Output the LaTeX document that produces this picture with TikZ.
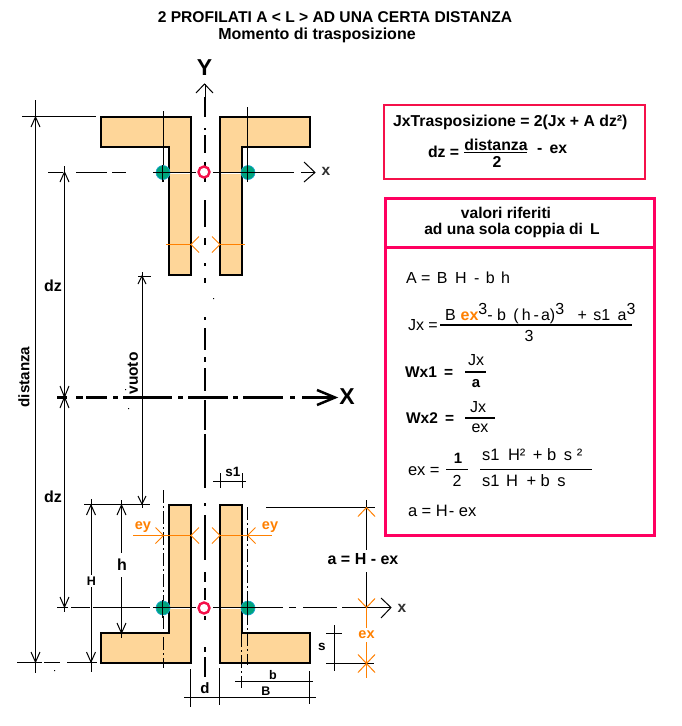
\documentclass[tikz,border=0pt]{standalone}
\usepackage{fontspec}
\setmainfont{Liberation Sans}
\definecolor{prof}{HTML}{FED699}
\definecolor{orng}{HTML}{FF8000}
\definecolor{box1}{HTML}{F5104A}
\definecolor{box2}{HTML}{FF0060}
\definecolor{grn}{HTML}{00A57C}
\definecolor{txg}{HTML}{303030}
\newcommand\fs[1]{\fontsize{#1}{#1}\selectfont}
\newcommand\fb{\bfseries}
\newcommand\hU[2]{\draw (#1-4.5,#2+10)--(#1,#2)--(#1+4.5,#2+10);}
\newcommand\hD[2]{\draw (#1-4.5,#2-10)--(#1,#2)--(#1+4.5,#2-10);}
\newcommand\oL[2]{\draw[orng] (#1+8,#2-8)--(#1,#2)--(#1+8,#2+8);}
\newcommand\oR[2]{\draw[orng] (#1-8,#2-8)--(#1,#2)--(#1-8,#2+8);}
\newcommand\oU[2]{\draw[orng] (#1-8.5,#2+9)--(#1,#2)--(#1+8.5,#2+9);}
\newcommand\oD[2]{\draw[orng] (#1-8.5,#2-9)--(#1,#2)--(#1+8.5,#2-9);}
\tikzset{
  lbl/.style={inner sep=0pt,outer sep=0pt,text=black},
  dim/.style={line width=1pt,black},
  profile/.style={fill=prof,draw=black,line width=2pt,miter limit=4},
  gdot/.style={fill=grn,draw=cyan!70!grn,line width=0.6pt},
  rdot/.style={fill=white,draw=box1,line width=2.4pt},
  center line/.style={line width=1pt,dash pattern=on 13pt off 3pt on 2pt off 3pt},
  frule/.style={line width=1.6pt,black}
}
\begin{document}
\begin{tikzpicture}[x=1pt,y=-1pt,line cap=butt]
\useasboundingbox (0,0) rectangle (682,726);
\fill[white] (0,0) rectangle (682,726);
% titles
\node[lbl] (t1) at (335,17) {\fs{15.6}\fb 2 PROFILATI A < L > AD UNA CERTA DISTANZA};
\node[lbl] (t2) at (317,35) {\fs{16}\fb Momento di trasposizione};
% profiles
\draw[profile] (101,117)--(191,117)--(191,275)--(169,275)--(169,147)--(101,147)--cycle;
\draw[profile] (310,117)--(220,117)--(220,275)--(242,275)--(242,147)--(310,147)--cycle;
\draw[profile] (101,663)--(191,663)--(191,505)--(169,505)--(169,633)--(101,633)--cycle;
\draw[profile] (310,663)--(220,663)--(220,505)--(242,505)--(242,633)--(310,633)--cycle;
\draw[white,line width=0.8pt] (170,173.5)--(190,173.5) (221,173.5)--(241,173.5) (170,608.5)--(190,608.5) (221,608.5)--(241,608.5);
% Y axis
\foreach \a/\b in {97/117,128/130,135/153,162/166,178/182,200/227,238/245,263/266,278/283,317/320,328/350,357/362,368/391,400/430,434/488,503/506,515/560,572/582,588/600,616/620,647/652,657/677}
  \draw[line width=2.5pt] (205,\a)--(205,\b);
\draw[line width=1pt] (205,84)--(205,97);
\draw[line width=1pt] (196,93)--(204.5,84)--(213,93);
\node[lbl] (Y) at (204.5,68) {\fs{23}\fb Y};
% X axis
\foreach \a/\b in {57/67,76/83,86/107,113/118,123/172,178/183,188/228,233/238,243/283,290/295,302/333}
  \draw[line width=2.5pt] (\a,397.5)--(\b,397.5);
\draw[line width=2.5pt] (317,390)--(335,397.5)--(317,405);
\node[lbl] (X) at (347,397) {\fs{23}\fb X};
% local x axes
\foreach \a/\b in {48/63,76/107,112/126,156/196,213/294,301/315}
  \draw[dim] (\a,172.5)--(\b,172.5);
\draw[dim] (304,162)--(315,172.5)--(304,182);
\node[lbl,text=txg] (x1) at (326,171) {\fs{15.5}\fb x};
\foreach \a/\b in {57/68,71/90,93/150,170/196,213/283,289/296,303/337,342/391}
  \draw[dim] (\a,607.5)--(\b,607.5);
\draw[dim] (381,598)--(391,607.5)--(381,618);
\node[lbl,text=txg] (x2) at (402,608) {\fs{15.5}\fb x};
% centroid verticals
\draw[dim] (163.5,111)--(163.5,182) (247.5,107)--(247.5,182);
\draw[center line] (163.5,490)--(163.5,668);
\draw[center line] (247.5,507)--(247.5,665);
\draw[center line] (241.5,634)--(241.5,688);
% dots
\foreach \p in {163,248} {
  \fill[gdot] (\p,172.5) circle[radius=7];
  \fill[gdot] (\p,608) circle[radius=7];
  \draw[dim] (\p-0.5,165)--(\p-0.5,182);
  \draw[dim] (\p-10,172.5)--(\p+10,172.5);
  \draw[dim] (\p-0.5,600)--(\p-0.5,618);
  \draw[dim] (\p-10,607.5)--(\p+10,607.5);
}
\draw[rdot] (204,172) circle[radius=5.5];
\draw[rdot] (204,608) circle[radius=5.5];
% stray specks
\fill (213,298) rectangle +(1,1) (125,389) rectangle +(1,1) (128,408) rectangle +(1,1) (54,670) rectangle +(1,1);
% distanza
\begin{scope}[dim]
\draw (35.5,100)--(35.5,673);
\draw (22,116.5)--(96,116.5);
\draw (17,662.5)--(42,662.5) (44,662.5)--(60,662.5) (67,662.5)--(97,662.5);
\hU{35.5}{117}
\hD{35.5}{662}
\node[lbl,rotate=90] (dist) at (24,377) {\fs{15.2}\fb distanza};
% dz
\draw (64.5,166)--(64.5,612);
\hU{64.5}{172}
\draw (60,386)--(64.5,397)--(69,386) (60,408)--(64.5,397)--(69,408);
\hD{64.5}{607}
\node[lbl,fill=white,inner xsep=1pt] (dz1) at (53,286) {\fs{16}\fb dz};
\node[lbl,fill=white,inner xsep=1pt] (dz2) at (53,497) {\fs{16}\fb dz};
% vuoto
\draw (142,272)--(142,508);
\draw (138,276.5)--(151,276.5);
\draw (138,284)--(142,276)--(146,284);
\draw (138,496)--(142,504)--(146,496);
\node[lbl,rotate=90] (vuoto) at (133,373.5) {\fs{15.5}\fb vuoto};
% H h
\draw (84,504.5)--(150,504.5);
\draw (91,499)--(91,575) (91,587)--(91,672);
\hU{91}{505}
\hD{91}{662}
\draw (121.5,500)--(121.5,553) (121.5,577)--(121.5,638);
\hU{121.5}{505}
\hD{121.5}{633}
\node[lbl] (H) at (91.5,581) {\fs{12.5}\fb H};
\node[lbl] (h) at (122,565) {\fs{16}\fb h};
% s1
\draw (213,481)--(246,481);
\draw (220.5,473)--(220.5,488) (242.5,473)--(242.5,488);
\node[lbl] (s1) at (233,472) {\fs{13.5}\fb s1};
% d B b
\draw (190.5,669)--(190.5,707) (219.5,668)--(219.5,705) (309.5,671)--(309.5,704);
\draw (184,697.5)--(316,697.5);
\draw (235,681.5)--(313,681.5);
\node[lbl] (d) at (205,688) {\fs{15}\fb d};
\node[lbl] (b) at (273,675) {\fs{12.5}\fb b};
\node[lbl] (B) at (266,691) {\fs{12.5}\fb B};
% a
\draw (266,507.5)--(375,507.5);
\draw (366.5,500)--(366.5,550) (366.5,572)--(366.5,607);
\node[lbl] (a) at (363,559.5) {\fs{16}\fb a = H - ex};
% s
\draw (334.5,625)--(334.5,671);
\draw (326,633.5)--(342,633.5) (326,663.5)--(374,663.5);
\node[lbl] (s) at (322,647) {\fs{13.5}\fb s};
\end{scope}
% orange
\begin{scope}[line width=1pt]
\draw[orng] (166,244.5)--(191,244.5) (220,244.5)--(245,244.5);
\oL{191}{244.5}\oR{220}{244.5}
\draw[orng] (133,535.5)--(191,535.5) (220,535.5)--(272,535.5);
\oR{163.5}{535.5}\oL{191}{535.5}\oR{220}{535.5}\oL{247.5}{535.5}
\oU{366.5}{507.5}\oD{366.5}{607.5}
\draw[orng] (366.5,607.5)--(366.5,628) (366.5,642)--(366.5,678);
\oD{366.5}{663.5}\oU{366.5}{663.5}
\end{scope}
\node[lbl,text=orng] (ey1) at (143,527) {\fs{14.5}\fb ey};
\node[lbl,text=orng] (ey2) at (270,527) {\fs{14.5}\fb ey};
\node[lbl,text=orng] (ex1) at (366.5,635) {\fs{14.5}\fb ex};
% boxes
\draw[box1,line width=2pt] (384,105) rectangle (645,179);
\draw[box2,line width=3pt] (385,198) rectangle (654,535);
\draw[box2,line width=3pt] (385,247) -- (654,247);
\node[lbl,anchor=west] (f1) at (393,122) {\fs{15.8}\fb JxTrasposizione = 2(Jx + A dz²)};
\node[lbl,anchor=west] (f2) at (428,152) {\fs{15.8}\fb dz =};
\node[lbl] (f3) at (496,145) {\fs{15.8}\fb distanza};
\draw[frule] (464,152.5)--(527,152.5);
\node[lbl] (f4) at (497,162) {\fs{15.8}\fb 2};
\node[lbl,anchor=west] (f5) at (537,149) {\fs{15.8}\fb -\hspace{3pt} ex};
\node[lbl] (v1) at (506,213) {\fs{15.6}\fb valori riferiti};
\node[lbl] (v2) at (512,230) {\fs{15.6}\fb ad una sola coppia di\hspace{3pt} L};
\node[lbl,anchor=west] (g1) at (406,278) {\fs{16}A =\hspace{2pt} B\hspace{3pt} H\hspace{3pt} -\hspace{2pt} b\hspace{2pt} h};
\node[lbl,anchor=west] (g2) at (408,325) {\fs{16}Jx =};
\draw[frule] (440,325)--(632,325);
\node[lbl,anchor=west] (g3) at (445,314) {\fs{16}B\hspace{5pt}{\fb\color{orng}ex}\raisebox{6pt}{3}- b\hspace{3pt} (\hspace{3pt}h\hspace{3pt}-\hspace{2pt}a)\raisebox{6pt}{3}\hspace{9pt} +\hspace{2pt} s1\hspace{3pt} a\raisebox{6pt}{3}};
\node[lbl] (g4) at (529,336) {\fs{16}3};
\node[lbl,anchor=west] (g5) at (405,372) {\fs{15.5}\fb Wx1\hspace{3pt} =};
\draw[frule] (465,372)--(486,372);
\node[lbl] (g6) at (476,360) {\fs{16}Jx};
\node[lbl] (g7) at (476,384) {\fs{15}\fb a};
\node[lbl,anchor=west] (g8) at (406,418) {\fs{15.5}\fb Wx2\hspace{3pt} =};
\draw[frule] (465,418)--(495,418);
\node[lbl] (g9) at (478,407) {\fs{16}Jx};
\node[lbl] (g10) at (480,428) {\fs{16}ex};
\node[lbl,anchor=west] (g11) at (408,471) {\fs{16.5}ex =};
\draw[frule] (446,469.5)--(468,469.5);
\node[lbl] (g12) at (458,458) {\fs{15}\fb 1};
\node[lbl] (g13) at (457,481) {\fs{16}2};
\draw[frule] (480,469.5)--(592,469.5);
\node[lbl,anchor=west] (g14) at (482,455) {\fs{16.5}s1\hspace{4pt} H²\hspace{3pt} + b\hspace{3pt} s ²};
\node[lbl,anchor=west] (g15) at (482,481) {\fs{16.5}s1\hspace{2pt} H\hspace{4pt} + b\hspace{3pt} s};
\node[lbl,anchor=west] (g16) at (408,511) {\fs{16.5}a = H\hspace{1pt}- ex};
\end{tikzpicture}
\end{document}
